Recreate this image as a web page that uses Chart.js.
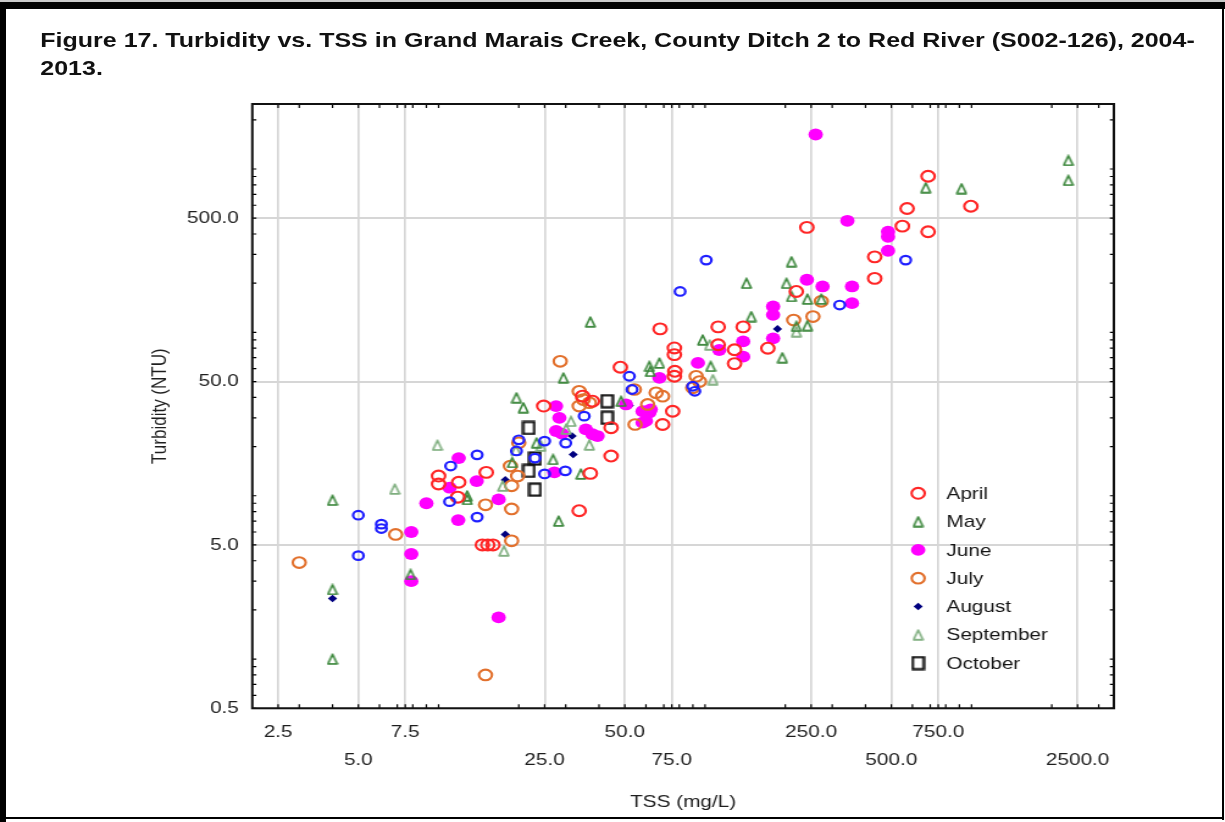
<!DOCTYPE html>
<html>
<head>
<meta charset="utf-8">
<script src="https://cdn.jsdelivr.net/npm/chart.js@4.4.1/dist/chart.umd.min.js"></script>
<style>
  html, body { margin: 0; padding: 0; background: #fff; width: 1225px; height: 822px; overflow: hidden; }
  #stretch { position: absolute; left: 0; top: 0; width: 1004px; height: 822px; transform: scaleX(1.22); transform-origin: 0 0; }
  #title { position: absolute; left: 33px; top: 26px; font: bold 20.5px "Liberation Sans", Arial, sans-serif; line-height: 28px; color: #111; white-space: nowrap; }
  #chart { position: absolute; left: 0; top: 0; }
  .fr { position: absolute; background: #000; z-index: 5; }
</style>
</head>
<body>
<div class="fr" style="left:0;top:0;width:1225px;height:2px;background:#c8c8c8"></div>
<div class="fr" style="left:0;top:2px;width:1225px;height:7px"></div>
<div class="fr" style="left:0;top:2px;width:6px;height:820px"></div>
<div class="fr" style="left:1222px;top:2px;width:2px;height:818px"></div>
<div class="fr" style="left:0;top:817px;width:1224px;height:2px"></div>
<div id="stretch">
  <div id="title">Figure 17. Turbidity vs. TSS in Grand Marais Creek, County Ditch 2 to Red River (S002-126), 2004-<br>2013.</div>
  <canvas id="chart" width="1004" height="822"></canvas>
</div>
<script>
// ---------------- DATA ----------------
const xTickValues = [2.5, 5, 7.5, 25, 50, 75, 250, 500, 750, 2500];
const xTickLabels = ['2.5', '5.0', '7.5', '25.0', '50.0', '75.0', '250.0', '500.0', '750.0', '2500.0'];
const yTickValues = [0.5, 5, 50, 500];
const yTickLabels = ['0.5', '5.0', '50.0', '500.0'];

const aprilTSS = [10, 10, 11.9, 11.8, 15.1, 14.6, 15.3, 16, 24.8, 34.7, 37.8, 44.4, 44.4, 37.1, 33.7, 48.1, 69.3, 75.6, 76.7, 76.7, 77, 76.7, 67.8, 112, 112, 139, 129, 129, 172, 220, 241, 433, 433, 550, 573, 687, 687, 994];
const aprilNTU = [13.2, 11.8, 12.1, 9.8, 13.9, 5, 5, 5, 35.4, 40.7, 37.9, 26.1, 17.5, 13.7, 8.1, 61.2, 27.3, 32.9, 80.3, 73.1, 57.8, 53.9, 105, 108, 84, 108, 78.3, 64.4, 80, 178, 439, 290, 214, 447, 573, 413, 903, 592];

const mayTSS = [4.0, 4.0, 4.0, 7.85, 12.8, 12.8, 18.9, 19.6, 20.8, 29.4, 37.1, 23.3, 26.9, 28.2, 34.2, 48.4, 61.8, 67.4, 62.3, 98, 105, 149, 143, 195, 211, 202, 211, 242, 273, 220, 242, 673, 917, 2307, 2307];
const mayNTU = [9.4, 2.67, 1.0, 3.3, 10, 9.5, 16, 39.8, 34.6, 52.7, 116, 21.1, 16.7, 7.0, 13.6, 37.9, 62, 65, 57.8, 90, 62, 125, 200, 70, 271, 200, 166, 160, 160, 109, 110, 769, 759, 1129, 853];

const juneTSS = [7.9, 7.9, 7.9, 9.0, 11, 11.9, 11.85, 13.9, 16.8, 16.8, 27.2, 27.6, 28.4, 27.6, 29, 35.7, 37.8, 39.5, 50.5, 58.3, 61.8, 58.3, 60, 62.5, 67.4, 94, 113, 139, 139, 180, 180, 180, 241, 276, 356, 356, 342, 486, 486, 486, 260];
const juneNTU = [6.0, 4.4, 3.0, 9.0, 11.2, 17, 7.1, 12.3, 9.5, 1.8, 13.9, 35.4, 30, 24.9, 24, 25.5, 23.8, 23.2, 36.2, 32.9, 32.3, 28, 28.7, 33.8, 52.7, 65, 78, 88, 71, 144, 128, 92, 210, 191, 191, 151, 482, 413, 385, 316, 1626];

const julyTSS = [3.0, 6.9, 15, 15, 18.8, 18.8, 18.8, 19.8, 20, 18.6, 28.6, 33.7, 34.9, 36.8, 33.7, 54.3, 54.6, 60.9, 65.5, 69.3, 92.6, 95.3, 89.9, 215, 254, 273];
const julyNTU = [3.9, 5.8, 8.8, 0.8, 5.3, 8.3, 11.5, 13.2, 21.1, 15.2, 66.5, 43.6, 38.8, 37.1, 35.4, 44.7, 27.3, 36.2, 42.7, 40.7, 53.9, 50, 45.8, 119, 125, 155];

const augustTSS = [4.0, 17.8, 17.8, 31.7, 32, 52, 187];
const augustNTU = [2.35, 12.5, 5.8, 23.2, 17.9, 35.7, 105];

const septemberTSS = [6.85, 17.4, 17.6, 9.9, 24.2, 31.4, 36.8, 30.1, 19.5, 104, 107, 220];
const septemberNTU = [11, 11.5, 4.6, 20.4, 20.2, 28.6, 20.5, 25.6, 19, 84, 51.4, 101];

const octoberTSS = [21.8, 21.8, 23, 23, 42.9, 42.9];
const octoberNTU = [26, 14.2, 10.9, 16.9, 37.9, 30.0];

// blue open circles shown in the plot but not listed in the legend
const otherTSS = [5.0, 5.0, 6.1, 6.1, 11.1, 11, 13.95, 13.95, 20, 19.6, 23, 25, 25, 29.9, 30, 35.2, 52, 53.2, 89.9, 91.5, 101, 80.6, 320, 566];
const otherNTU = [7.6, 4.3, 6.7, 6.3, 15.2, 9.2, 17.8, 7.4, 22, 18.8, 17, 21.6, 13.6, 14.2, 21, 30.7, 53.9, 44.7, 46.8, 43.6, 277, 178, 147, 277];

// ---------------- STYLE ----------------
const FONT = '"Liberation Sans", Arial, Helvetica, sans-serif';

function triImg(color) {
  const c = document.createElement('canvas'); c.width = 10; c.height = 12;
  const g = c.getContext('2d');
  g.strokeStyle = color; g.lineWidth = 1.7; g.lineJoin = 'round';
  g.beginPath(); g.moveTo(5, 1.2); g.lineTo(8.8, 10.8); g.lineTo(1.2, 10.8); g.closePath(); g.stroke();
  return c;
}
function sqImg(color) {
  const c = document.createElement('canvas'); c.width = 12; c.height = 15;
  const g = c.getContext('2d');
  g.strokeStyle = color; g.lineWidth = 2.2;
  g.strokeRect(1.5, 1.5, 9, 12);
  return c;
}

const pts = (xs, ys) => xs.map((x, i) => ({ x: x, y: ys[i] }));

const datasets = [
  { label: 'Other', data: pts(otherTSS, otherNTU), pointStyle: 'circle', pointRadius: 4.3, pointBorderWidth: 2.2, pointBorderColor: '#1f1fff', pointBackgroundColor: 'rgba(0,0,0,0)' },
  { label: 'April', data: pts(aprilTSS, aprilNTU), pointStyle: 'circle', pointRadius: 5.4, pointBorderWidth: 2.1, pointBorderColor: '#ff2626', pointBackgroundColor: 'rgba(0,0,0,0)' },
  { label: 'May', data: pts(mayTSS, mayNTU), pointStyle: triImg('#3d883d'), pointRadius: 5, pointBorderColor: '#3d883d', pointBackgroundColor: 'rgba(0,0,0,0)' },
  { label: 'September', data: pts(septemberTSS, septemberNTU), pointStyle: triImg('#7fae7f'), pointRadius: 5, pointBorderColor: '#7fae7f', pointBackgroundColor: 'rgba(0,0,0,0)' },
  { label: 'July', data: pts(julyTSS, julyNTU), pointStyle: 'circle', pointRadius: 5.3, pointBorderWidth: 2.1, pointBorderColor: '#e2702c', pointBackgroundColor: 'rgba(0,0,0,0)' },
  { label: 'June', data: pts(juneTSS, juneNTU), pointStyle: 'circle', pointRadius: 5.9, pointBorderWidth: 0, pointBorderColor: '#ff00ff', pointBackgroundColor: '#ff00ff' },
  { label: 'August', data: pts(augustTSS, augustNTU), pointStyle: 'rectRot', pointRadius: 3.8, pointBorderWidth: 0, pointBorderColor: '#000080', pointBackgroundColor: '#000080' },
  { label: 'October', data: pts(octoberTSS, octoberNTU), pointStyle: sqImg('#111'), pointRadius: 5, pointBorderColor: '#111', pointBackgroundColor: 'rgba(0,0,0,0)' }
];
const legendOrder = ['April', 'May', 'June', 'July', 'August', 'September', 'October'];

// minor tick values on log axes
const xMinorTicks = [], yMinorTicks = [];
[1, 10, 100, 1000].forEach(d => { for (let k = 1; k <= 9; k++) { const v = k * d; if (v > 2 && v < 3420) xMinorTicks.push(v); } });
[0.1, 1, 10, 100, 1000].forEach(d => { for (let k = 1; k <= 9; k++) { const v = k * d; if (v > 0.5 && v < 2500) yMinorTicks.push(v); } });

const framePlugin = {
  id: 'frame',
  afterDatasetsDraw(chart) {
    const { ctx, chartArea: a, scales } = chart;
    ctx.save();
    ctx.strokeStyle = '#000'; ctx.lineWidth = 1.2;
    ctx.beginPath();
    xMinorTicks.concat(xTickValues).forEach(v => {
      const px = scales.x.getPixelForValue(v);
      ctx.moveTo(px, a.bottom); ctx.lineTo(px, a.bottom - 4);
      ctx.moveTo(px, a.top); ctx.lineTo(px, a.top + 4);
    });
    yMinorTicks.concat(yTickValues).forEach(v => {
      const py = scales.y.getPixelForValue(v);
      ctx.moveTo(a.left, py); ctx.lineTo(a.left + 3.3, py);
      ctx.moveTo(a.right, py); ctx.lineTo(a.right - 3.3, py);
    });
    ctx.stroke();
    ctx.lineWidth = 2; ctx.strokeStyle = '#111';
    ctx.strokeRect(a.left, a.top, a.right - a.left, a.bottom - a.top);
    // legend inside the plot
    const lx = a.right - 160.4, tx = a.right - 137.2, y0 = 493.3, dy = 28.3;
    ctx.font = '17px ' + FONT; ctx.textBaseline = 'middle'; ctx.textAlign = 'left';
    legendOrder.forEach((name, i) => {
      const ds = chart.data.datasets.find(d => d.label === name);
      const y = y0 + i * dy;
      ctx.fillStyle = ds.pointBackgroundColor; ctx.strokeStyle = ds.pointBorderColor; ctx.lineWidth = ds.pointBorderWidth || 0;
      Chart.helpers.drawPoint(ctx, { pointStyle: ds.pointStyle, radius: ds.pointRadius, borderWidth: ds.pointBorderWidth || 0, rotation: 0 }, lx, y);
      ctx.fillStyle = '#141414';
      ctx.fillText(name, tx, y + 1);
    });
    ctx.restore();
  }
};

new Chart(document.getElementById('chart').getContext('2d'), {
  type: 'scatter',
  data: { datasets: datasets },
  options: {
    responsive: false, animation: false, devicePixelRatio: 1,
    layout: { padding: { left: 117, top: 104, right: 91, bottom: 5 } },
    plugins: { legend: { display: false }, tooltip: { enabled: false }, title: { display: false } },
    scales: {
      x: {
        type: 'logarithmic', position: 'bottom', min: 2, max: 3420,
        afterBuildTicks: s => { s.ticks = xTickValues.map(v => ({ value: v })); },
        afterFit: s => { s.height = 108.7; },
        ticks: {
          autoSkip: false, maxRotation: 0, minRotation: 0, padding: 10, color: '#1e1e1e',
          font: { family: FONT, size: 17, lineHeight: 28 / 17 },
          callback: (v, i) => (i % 2 ? ['', xTickLabels[i]] : xTickLabels[i])
        },
        grid: { color: '#d6d6d6', lineWidth: 1.7, drawTicks: false },
        border: { display: false },
        title: { display: true, text: 'TSS (mg/L)', color: '#1e1e1e', font: { family: FONT, size: 17 }, padding: { top: 4, bottom: 4 } }
      },
      y: {
        type: 'logarithmic', position: 'left', min: 0.5, max: 2500,
        afterBuildTicks: s => { s.ticks = yTickValues.map(v => ({ value: v })); },
        afterFit: s => { s.width = 89.8; },
        ticks: {
          autoSkip: false, padding: 11, color: '#1e1e1e',
          font: { family: FONT, size: 17 },
          callback: (v, i) => yTickLabels[i]
        },
        grid: { color: '#d6d6d6', lineWidth: 2, drawTicks: false },
        border: { display: false },
        title: { display: true, text: 'Turbidity (NTU)', color: '#1e1e1e', font: { family: FONT, size: 17 }, padding: { top: 4, bottom: 4 } }
      }
    }
  },
  plugins: [framePlugin]
});
</script>
</body>
</html>
